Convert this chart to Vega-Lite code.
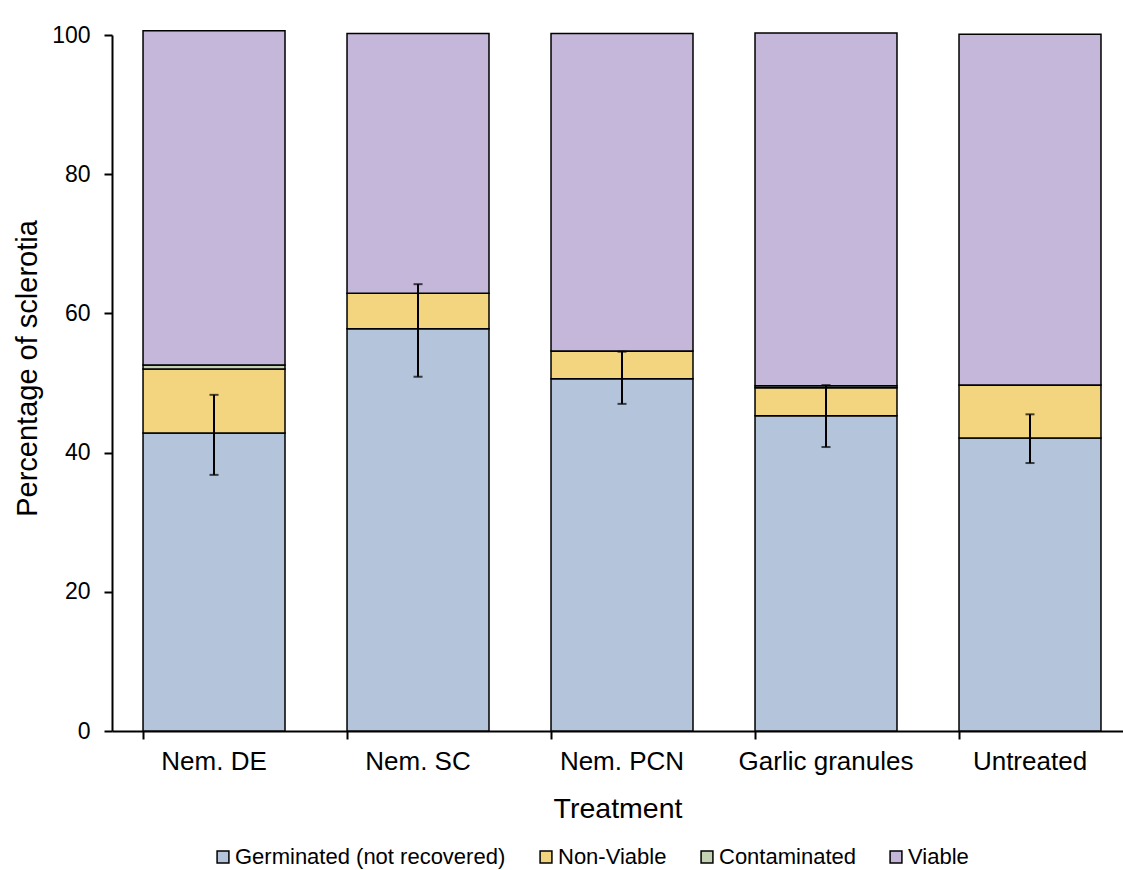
{
  "$schema": "https://vega.github.io/schema/vega-lite/v6.json",
  "width": 1011,
  "height": 696,
  "autosize": {"type": "none"},
  "padding": {"left": 112, "top": 35, "right": 0, "bottom": 139},
  "background": "white",
  "config": {
    "font": "Liberation Sans",
    "view": {"stroke": null},
    "axis": {
      "grid": false,
      "domainColor": "black",
      "domainWidth": 2,
      "tickColor": "black",
      "tickWidth": 2,
      "tickSize": 8,
      "labelColor": "black",
      "titleColor": "black",
      "labelFont": "Liberation Sans",
      "titleFont": "Liberation Sans",
      "titleFontWeight": "normal"
    },
    "legend": {"labelFont": "Liberation Sans", "labelColor": "black"}
  },
  "datasets": {
    "bars": [
      {"treatment": "Nem. DE", "category": "Germinated (not recovered)", "value": 42.8, "ord": 1},
      {"treatment": "Nem. DE", "category": "Non-Viable", "value": 9.2, "ord": 2},
      {"treatment": "Nem. DE", "category": "Contaminated", "value": 0.6, "ord": 3},
      {"treatment": "Nem. DE", "category": "Viable", "value": 48.0, "ord": 4},
      {"treatment": "Nem. SC", "category": "Germinated (not recovered)", "value": 57.8, "ord": 1},
      {"treatment": "Nem. SC", "category": "Non-Viable", "value": 5.1, "ord": 2},
      {"treatment": "Nem. SC", "category": "Contaminated", "value": 0.0, "ord": 3},
      {"treatment": "Nem. SC", "category": "Viable", "value": 37.3, "ord": 4},
      {"treatment": "Nem. PCN", "category": "Germinated (not recovered)", "value": 50.6, "ord": 1},
      {"treatment": "Nem. PCN", "category": "Non-Viable", "value": 4.0, "ord": 2},
      {"treatment": "Nem. PCN", "category": "Contaminated", "value": 0.0, "ord": 3},
      {"treatment": "Nem. PCN", "category": "Viable", "value": 45.6, "ord": 4},
      {"treatment": "Garlic granules", "category": "Germinated (not recovered)", "value": 45.3, "ord": 1},
      {"treatment": "Garlic granules", "category": "Non-Viable", "value": 4.0, "ord": 2},
      {"treatment": "Garlic granules", "category": "Contaminated", "value": 0.3, "ord": 3},
      {"treatment": "Garlic granules", "category": "Viable", "value": 50.7, "ord": 4},
      {"treatment": "Untreated", "category": "Germinated (not recovered)", "value": 42.1, "ord": 1},
      {"treatment": "Untreated", "category": "Non-Viable", "value": 7.6, "ord": 2},
      {"treatment": "Untreated", "category": "Contaminated", "value": 0.0, "ord": 3},
      {"treatment": "Untreated", "category": "Viable", "value": 50.4, "ord": 4}
    ],
    "errors": [
      {"treatment": "Nem. DE", "lo": 36.8, "hi": 48.3},
      {"treatment": "Nem. SC", "lo": 50.9, "hi": 64.2},
      {"treatment": "Nem. PCN", "lo": 47.0, "hi": 54.5},
      {"treatment": "Garlic granules", "lo": 40.8, "hi": 49.7},
      {"treatment": "Untreated", "lo": 38.5, "hi": 45.5}
    ]
  },
  "encoding": {
    "x": {
      "field": "treatment",
      "type": "nominal",
      "sort": ["Nem. DE", "Nem. SC", "Nem. PCN", "Garlic granules", "Untreated"],
      "scale": {"paddingInner": 0.304, "paddingOuter": 0.13, "align": 0.585},
      "axis": {
        "title": "Treatment",
        "labelAngle": 0,
        "labelFontSize": 26,
        "titleFontSize": 28.5,
        "labelPadding": 9,
        "titlePadding": 20,
        "bandPosition": 0
      }
    }
  },
  "layer": [
    {
      "data": {"name": "bars"},
      "mark": {"type": "bar", "stroke": "black", "strokeWidth": 1.5},
      "encoding": {
        "y": {
          "field": "value",
          "type": "quantitative",
          "stack": "zero",
          "scale": {"domain": [0, 100], "nice": false, "zero": true},
          "axis": {
            "title": "Percentage of sclerotia",
            "values": [0, 20, 40, 60, 80, 100],
            "labelFontSize": 23,
            "titleFontSize": 29,
            "labelPadding": 14,
            "titlePadding": 9,
            "titleY": 333
          }
        },
        "color": {
          "field": "category",
          "type": "nominal",
          "scale": {
            "domain": ["Germinated (not recovered)", "Non-Viable", "Contaminated", "Viable"],
            "range": ["#B4C5DB", "#F2D57E", "#C5D3B5", "#C5B7DA"]
          },
          "legend": {
            "title": null,
            "orient": "none",
            "legendX": 100,
            "legendY": 811,
            "direction": "horizontal",
            "columns": 4,
            "symbolType": "square",
            "symbolSize": 140,
            "symbolStrokeColor": "black",
            "symbolStrokeWidth": 1.5,
            "labelFontSize": 22,
            "labelLimit": 0,
            "labelOffset": 1,
            "columnPadding": 29
          }
        },
        "order": {"field": "ord", "type": "quantitative"}
      }
    },
    {
      "data": {"name": "errors"},
      "mark": {"type": "rule", "color": "black", "strokeWidth": 2},
      "encoding": {
        "y": {"field": "lo", "type": "quantitative"},
        "y2": {"field": "hi"}
      }
    },
    {
      "data": {"name": "errors"},
      "mark": {"type": "tick", "color": "black", "thickness": 2, "size": 9, "orient": "horizontal"},
      "encoding": {"y": {"field": "lo", "type": "quantitative"}}
    },
    {
      "data": {"name": "errors"},
      "mark": {"type": "tick", "color": "black", "thickness": 2, "size": 9, "orient": "horizontal"},
      "encoding": {"y": {"field": "hi", "type": "quantitative"}}
    }
  ]
}
